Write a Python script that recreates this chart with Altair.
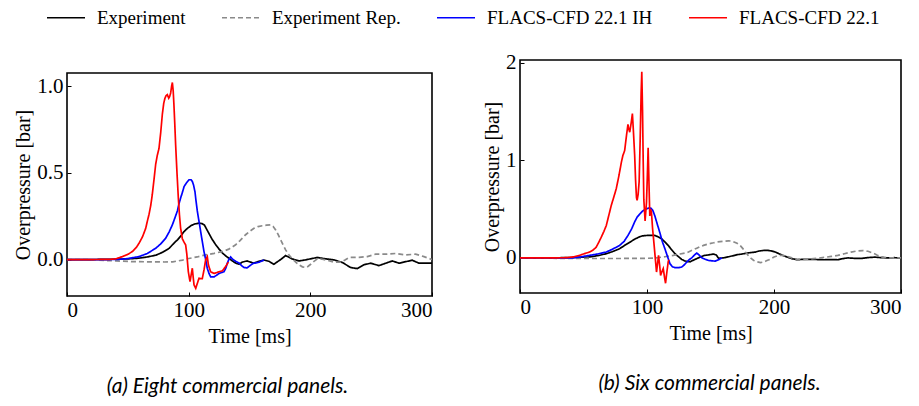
import altair as alt
import pandas as pd

SERIES = ["Experiment", "Experiment Rep.", "FLACS-CFD 22.1 IH", "FLACS-CFD 22.1"]
COLORS = ["#000000", "#8a8a8a", "#0000ff", "#ff0000"]
DASHES = [[1, 0], [5, 3], [1, 0], [1, 0]]

# ---------------- (a) Eight commercial panels ----------------
a_exp_t = [0, 20, 40, 50, 59, 66, 73, 78, 84, 88, 91, 94, 96, 99, 102, 105, 108.5, 111, 113, 116.7,
           119, 122, 125, 128, 131, 133, 136, 138.6, 141.4, 144, 148, 151, 153.4, 157, 162, 166, 170,
           175.6, 179.7, 182, 185, 190.6, 196, 200, 205.8, 212.6, 219.5, 226.3, 233.2, 238.6, 244,
           249.6, 256.4, 262, 267.4, 273, 278.4, 283.8, 289.3, 294, 300]
a_exp_v = [0, 0, 0.002, 0.004, 0.008, 0.015, 0.025, 0.04, 0.065, 0.095, 0.115, 0.14, 0.16, 0.18,
           0.196, 0.205, 0.21, 0.207, 0.198, 0.15, 0.12, 0.088, 0.06, 0.036, 0.018, 0.008, -0.008,
           -0.02, -0.027, -0.015, -0.008, -0.015, -0.021, -0.012, -0.003, -0.01, -0.027, 0.0, 0.023,
           0.015, 0.004, -0.008, -0.002, 0.004, 0.012, 0.004, -0.002, -0.017, -0.046, -0.052, -0.03,
           -0.021, -0.035, -0.021, -0.008, -0.021, -0.012, -0.004, -0.021, -0.02, -0.021]

a_rep_t = [0, 15, 25, 40, 55, 67, 80, 87, 95, 100, 107, 114, 121, 127.7, 133, 138.6, 142, 146.8,
           150, 153.7, 157, 160.5, 164, 167.4, 169.5, 171.5, 173.5, 175.6, 177.6, 179.7, 182, 185.2,
           188, 190.7, 193.5, 196.2, 198, 200.3, 203, 205.8, 209, 212.6, 216, 219.5, 225, 228.5,
           231.8, 240, 246.8, 253.7, 262, 270, 278.4, 286.5, 293.4, 300]
a_rep_v = [0, 0, -0.003, -0.008, -0.012, -0.013, -0.014, -0.013, -0.003, 0.006, 0.015, 0.027,
           0.036, 0.046, 0.06, 0.085, 0.108, 0.143, 0.162, 0.18, 0.19, 0.195, 0.198, 0.2, 0.19, 0.17,
           0.145, 0.114, 0.085, 0.056, 0.03, 0.004, -0.015, -0.031, -0.042, -0.046, -0.04, -0.027,
           -0.01, 0.004, 0.003, -0.002, -0.008, -0.015, -0.015, -0.002, 0.012, 0.013, 0.017, 0.031,
           0.031, 0.035, 0.027, 0.031, 0.017, 0.0]

a_ih_t = [0, 20, 35, 45.5, 52, 59.2, 66, 72.9, 77, 81.1, 84, 86.6, 88.7, 90.7, 92, 93.4, 95, 96.2,
          98, 100.3, 102, 103, 104, 105.2, 106, 107.1, 108.5, 109.9, 111.3, 112.6, 114, 115.3,
          116.7, 118.1, 120.8, 123, 125, 127, 129, 130.5, 131.8, 133, 134.5, 136.5, 138.6, 141.4,
          143.5, 145.5, 148, 151, 153, 155, 158, 160, 162]
a_ih_v = [0, 0, 0.0, 0.002, 0.008, 0.017, 0.035, 0.065, 0.09, 0.123, 0.16, 0.2, 0.24, 0.28, 0.32,
          0.355, 0.39, 0.42, 0.44, 0.46, 0.46, 0.45, 0.43, 0.39, 0.34, 0.28, 0.22, 0.16, 0.1, 0.046,
          0.0, -0.05, -0.08, -0.1, -0.1, -0.09, -0.08, -0.075, -0.07, -0.05, -0.02, 0.0, 0.015,
          0.0, -0.01, -0.02, -0.035, -0.046, -0.048, -0.032, -0.022, -0.02, -0.015, -0.008, -0.003]

a_std_t = [0, 20, 35, 40, 45.5, 50, 53.7, 57, 59.2, 62, 64.7, 66, 67.4, 68.8, 70.1, 71.5, 72.9,
           74.2, 75.6, 77, 78.4, 79.5, 80.5, 81.5, 82.5, 83.6, 84.4, 85.2, 86, 86.6, 87.3, 87.9,
           88.6, 89.3, 90.4, 91.5, 92.4, 93.4, 94.8, 96.2, 97.5, 98.5, 99.7, 101.1, 102, 103, 103.7,
           104.4, 105.8, 107, 108.5, 110, 111.2, 112.6, 114, 115.3, 116.2, 118, 120.8, 123, 125,
           127.7, 130.4, 132.6]
a_std_v = [0, 0, 0.001, 0.004, 0.017, 0.03, 0.046, 0.07, 0.094, 0.13, 0.18, 0.22, 0.26, 0.31,
           0.375, 0.46, 0.55, 0.6, 0.64, 0.73, 0.84, 0.9, 0.93, 0.945, 0.95, 0.93, 0.94, 0.96, 1.0,
           1.02, 0.97, 0.89, 0.78, 0.66, 0.5, 0.355, 0.26, 0.18, 0.12, 0.1, 0.085, 0.03, -0.069,
           -0.127, -0.09, -0.05, -0.1, -0.146, -0.166, -0.14, -0.108, -0.11, -0.11, -0.06, 0.0,
           0.017, -0.03, -0.07, -0.08, -0.075, -0.07, -0.065, -0.04, -0.015]

# ---------------- (b) Six commercial panels ----------------
b_exp_t = [0, 20, 40, 54.7, 62, 67.9, 73, 78.4, 82, 86.4, 90, 93, 96, 99.6, 103, 106.2, 109, 111.5,
           114, 116.7, 119, 122, 125, 127.3, 129.5, 131.3, 133.9, 137, 141.8, 145, 148, 152.4,
           154.5, 156.4, 160, 163, 167, 170.9, 175, 178.8, 182, 185.4, 188, 192, 195, 198.6, 201,
           203.9, 207, 210.5, 214, 218.5, 222, 229, 235, 239.6, 245, 250.2, 254, 258.1, 263, 268.6,
           274, 279.2, 284, 289.7, 295, 300]
b_exp_v = [0, 0, 0.003, 0.01, 0.025, 0.043, 0.065, 0.094, 0.125, 0.16, 0.19, 0.21, 0.225, 0.23,
           0.232, 0.23, 0.215, 0.196, 0.165, 0.128, 0.09, 0.043, 0.01, -0.015, -0.03, -0.036,
           -0.04, -0.02, 0.008, 0.025, 0.03, 0.04, 0.03, -0.004, 0.0, 0.008, 0.02, 0.033, 0.04,
           0.05, 0.055, 0.06, 0.07, 0.077, 0.078, 0.07, 0.06, 0.043, 0.025, 0.008, -0.008, -0.019,
           -0.015, -0.015, -0.017, -0.019, -0.017, -0.019, -0.008, 0.0, -0.004, -0.006, 0.003,
           0.008, 0.003, 0.0, 0.002, 0.0]

b_rep_t = [0, 20, 40, 60, 80, 100, 107, 114, 120.7, 126, 131.3, 135, 139.2, 141.8, 144.5, 148.5,
           152.4, 155.1, 160, 164.3, 167, 170.9, 173.5, 175.5, 177.5, 180, 182, 184.1, 186.5,
           189.4, 192, 194, 196, 198, 200, 203.9, 207, 210.5, 214, 218.5, 223, 229, 234, 239.6,
           245, 250.2, 255.4, 260.7, 265, 269.9, 274, 277.9, 281, 284.5, 290, 300]
b_rep_v = [0, -0.003, -0.005, -0.006, -0.006, -0.004, 0.0, 0.012, 0.026, 0.04, 0.053, 0.075, 0.1,
           0.115, 0.128, 0.145, 0.155, 0.163, 0.17, 0.175, 0.172, 0.15, 0.125, 0.095, 0.06, 0.02,
           -0.005, -0.026, -0.04, -0.048, -0.042, -0.03, -0.02, -0.005, 0.01, 0.026, 0.025, 0.015,
           0.0, -0.015, -0.015, -0.01, -0.003, 0.005, 0.015, 0.026, 0.043, 0.06, 0.07, 0.075,
           0.068, 0.05, 0.03, 0.01, 0.0, 0.0]

b_ih_t = [0, 20, 41.5, 48, 54.7, 61, 67.9, 73, 78.4, 82, 85, 88, 90.3, 92.3, 94.3, 96.5, 99, 101,
          103, 104.5, 106.2, 108, 110.1, 112, 114.1, 116, 118.1, 120, 122, 125, 127.3, 129.5,
          131.3, 133.5, 135.2, 137, 139.2, 141, 143.2, 146, 148.4, 151, 153.7, 156.5, 159]
b_ih_v = [0, 0, 0.0, 0.01, 0.026, 0.04, 0.06, 0.09, 0.128, 0.17, 0.23, 0.3, 0.37, 0.42, 0.45,
          0.48, 0.5, 0.51, 0.51, 0.49, 0.43, 0.35, 0.26, 0.17, 0.094, 0.02, -0.06, -0.09, -0.1,
          -0.1, -0.094, -0.07, -0.043, -0.015, 0.0, 0.025, 0.05, 0.03, 0.0, -0.015, -0.026, -0.03,
          -0.033, -0.018, 0.0]

b_std_t = [0, 20, 36, 42, 46.8, 50, 54.7, 57.5, 60, 62, 63.9, 66, 67.9, 70, 71.9, 74, 75.8, 78,
           79.8, 81, 82.4, 83.8, 85, 85.7, 86.4, 87.5, 88.5, 89.3, 90.3, 91, 91.7, 92.2, 93, 93.8,
           94.6, 95.4, 95.9, 96.5, 97, 97.5, 98.5, 99.6, 100.3, 100.9, 101.5, 102.2, 102.8, 103.5,
           104.4, 105.4, 106.5, 107.5, 108.3, 109.1, 110, 110.7, 111.8, 112.8, 113.8, 114.6,
           115.6, 116.7, 117.2]
b_std_v = [0, 0, 0.002, 0.01, 0.026, 0.04, 0.06, 0.08, 0.11, 0.16, 0.21, 0.27, 0.33, 0.44, 0.54,
           0.63, 0.71, 0.85, 0.98, 1.05, 1.1, 1.25, 1.37, 1.32, 1.29, 1.38, 1.48, 1.3, 1.05, 0.8,
           0.62, 0.59, 0.65, 0.78, 1.2, 1.7, 1.91, 1.5, 1.0, 0.6, 0.38, 0.57, 0.85, 1.13, 0.8, 0.43,
           0.5, 0.47, 0.3, 0.16, 0.0, -0.145, -0.06, 0.025, -0.08, -0.18, -0.14, -0.11, -0.2,
           -0.26, -0.15, -0.04, -0.02]

X_TICKS = [0, 100, 200, 300]
A_Y_TICKS = [0.0, 0.5, 1.0]
B_Y_TICKS = [0, 1, 2]
A_Y_DOMAIN = [-0.21, 1.075]
B_Y_DOMAIN = [-0.36, 2.03]


def frame(ts, vs):
    rows = []
    for name, t, v in zip(SERIES, ts, vs):
        for ti, vi in zip(t, v):
            rows.append({"series": name, "t": ti, "v": vi})
    return pd.DataFrame(rows)


data_a = frame([a_exp_t, a_rep_t, a_ih_t, a_std_t], [a_exp_v, a_rep_v, a_ih_v, a_std_v])
data_b = frame([b_exp_t, b_rep_t, b_ih_t, b_std_t], [b_exp_v, b_rep_v, b_ih_v, b_std_v])

SERIF = "Liberation Serif"


def panel(data, w, h, ydom, yticks, yfmt, caption, cap_dx):
    xs = alt.Scale(domain=[0, 300], nice=False, zero=False)
    ys = alt.Scale(domain=ydom, nice=False, zero=False)
    lines = alt.Chart(data).mark_line(strokeWidth=1.7, clip=True).encode(
        x=alt.X("t:Q", scale=xs, axis=alt.Axis(values=X_TICKS, title="Time [ms]", tickSize=0,
                                               domain=False, grid=False, labelPadding=3,
                                               titlePadding=6)),
        y=alt.Y("v:Q", scale=ys, axis=alt.Axis(values=yticks, format=yfmt,
                                               title="Overpressure [bar]", tickSize=0,
                                               domain=False, grid=False, labelPadding=4,
                                               titlePadding=3)),
        color=alt.Color("series:N", scale=alt.Scale(domain=SERIES, range=COLORS),
                        legend=alt.Legend(title=None)),
        strokeDash=alt.StrokeDash("series:N", scale=alt.Scale(domain=SERIES, range=DASHES),
                                  legend=alt.Legend(title=None)),
    )
    ticks = alt.Chart(data).mark_line(opacity=0).encode(
        x=alt.X("t:Q", scale=xs, axis=alt.Axis(values=X_TICKS, orient="bottom", labels=False,
                                               title=None, domain=False, grid=False, tickSize=4,
                                               offset=-4, tickColor="#000000", tickWidth=1)),
        y=alt.Y("v:Q", scale=ys, axis=alt.Axis(values=yticks, orient="left", labels=False,
                                               title=None, domain=False, grid=False, tickSize=4,
                                               offset=-4, tickColor="#000000", tickWidth=1)),
    )
    return alt.layer(lines, ticks).resolve_axis(x="independent", y="independent").properties(
        width=w, height=h,
        title=alt.TitleParams(caption, orient="bottom", anchor="middle", font="Lato",
                              fontStyle="italic", fontWeight="normal", fontSize=21,
                              color="#000000", offset=30, dx=cap_dx),
    )


left = panel(data_a, 365, 223, A_Y_DOMAIN, A_Y_TICKS, ".1f", "(a) Eight commercial panels.", -22)
right = panel(data_b, 381, 233, B_Y_DOMAIN, B_Y_TICKS, "d", "(b) Six commercial panels.", -1)

spacer = alt.Chart(pd.DataFrame({"s": [0]})).mark_point(opacity=0).encode(
    x=alt.value(0), y=alt.value(0)
).properties(width=365, height=12, view=alt.ViewBackground(strokeOpacity=0))

chart = alt.hconcat(
    alt.vconcat(spacer, left, spacing=0),
    right,
    spacing=47,
).properties(padding={"left": 4, "top": -1, "right": 0, "bottom": 0}).configure_view(
    stroke="#000000", strokeWidth=1.6
).configure_axis(
    labelFont=SERIF, labelFontSize=21, labelColor="#000000",
    titleFont=SERIF, titleFontSize=20, titleFontWeight="normal", titleColor="#000000",
).configure_legend(
    orient="none", legendX=-21, legendY=-53, direction="horizontal", columns=4,
    symbolType="M-1,0H3", symbolSize=361, symbolStrokeWidth=1.6, labelFont=SERIF,
    labelFontSize=19, labelColor="#000000", labelOffset=30, columnPadding=32, labelLimit=0,
)

chart.save("out.html", embed_options={"renderer": "svg", "actions": False})
